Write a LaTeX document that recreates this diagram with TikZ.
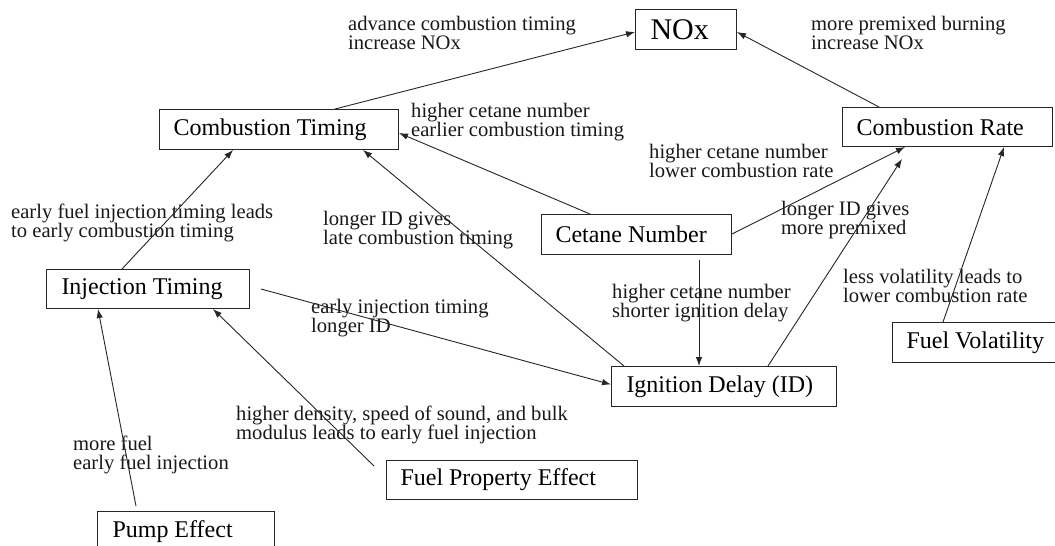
\documentclass[tikz,border=0pt]{standalone}
\usepackage{fontspec}
\setmainfont{Liberation Serif}
\usetikzlibrary{calc,arrows.meta}
\newcommand{\bxt}[3]{\makebox[#1pt][l]{\hspace*{#2pt}#3}}
\begin{document}
\begin{tikzpicture}[x=1pt,y=-1pt,
  box/.style={draw=black!85, line width=1pt, inner sep=0pt, minimum height=40pt, anchor=north west, font=\fontsize{24}{28}\selectfont},
  lab/.style={anchor=north west, inner sep=0pt, align=left, font=\fontsize{20.6}{19.5}\selectfont, text=black!90},
  arr/.style={draw=black!85, line width=0.9pt, -{Latex[length=9pt,width=6.5pt]}}]
\fill[white] (0,0) rectangle (1055,546);
\useasboundingbox (0,0) rectangle (1055,546);

% boxes
\node[box] (nox) at (635,9) {\fontsize{30}{34}\selectfont\bxt{101}{15}{NOx}};
\node[box] (ct) at (159,109) {\bxt{239}{14}{Combustion Timing}};
\node[box,minimum height=39pt] (cr) at (842,107) {\bxt{210}{14}{Combustion Rate}};
\node[box] (cn) at (541,214) {\bxt{190}{14}{Cetane Number}};
\node[box,minimum height=39pt] (it) at (46,269) {\bxt{203}{15}{Injection Timing}};
\node[box] (id) at (611,366) {\bxt{225}{15}{Ignition Delay (ID)}};
\node[box] (fv) at (892,322) {\bxt{180}{14}{Fuel Volatility}};
\node[box,minimum height=39pt] (fpe) at (386,460) {\bxt{251}{14}{Fuel Property Effect}};
\node[box] (pu) at (97,511) {\bxt{177}{15}{Pump Effect}};

% labels
\node[lab] (l1) at (348,15.6) {advance combustion timing\\increase NOx};
\node[lab] (l2) at (811,15.6) {more premixed burning\\increase NOx};
\node[lab] (l3) at (411,102.6) {higher cetane number\\earlier combustion timing};
\node[lab] (l4) at (649,143.6) {higher cetane number\\lower combustion rate};
\node[lab] (l5) at (11,203.6) {early fuel injection timing leads\\to early combustion timing};
\node[lab] (l6) at (323,210.6) {longer ID gives\\late combustion timing};
\node[lab] (l7) at (781,200.6) {longer ID gives\\more premixed};
\node[lab] (l8) at (843,268.6) {less volatility leads to\\lower combustion rate};
\node[lab] (l9) at (612,283.6) {higher cetane number\\shorter ignition delay};
\node[lab] (l10) at (311,298.6) {early injection timing\\longer ID};
\node[lab] (l11) at (236,405.6) {higher density, speed of sound, and bulk\\modulus leads to early fuel injection};
\node[lab] (l12) at (73,435.6) {more fuel\\early fuel injection};

% connectors
\draw[arr] ($(ct.north west)+(176,0)$) -- ($(nox.north west)+(0,23)$);
\draw[arr] ($(cr.north west)+(37,0)$) -- ($(nox.north east)+(0,23)$);
\draw[arr] ($(cn.north west)+(49,0)$) -- ($(ct.north east)+(0,24)$);
\draw[arr] ($(cn.north east)+(0,20)$) -- ($(cr.south west)+(63,0)$);
\draw[arr] ($(id.north west)+(157,0)$) -- ($(cr.south west)+(60,12)$);
\draw[arr] ($(fv.north west)+(51,0)$) -- ($(cr.south west)+(162,0)$);
\draw[arr] ($(cn.south west)+(158,5)$) -- ($(id.north west)+(88,0)$);
\draw[arr] ($(id.north west)+(13,0)$) -- ($(ct.south west)+(204,0)$);
\draw[arr] ($(it.north west)+(76,0)$) -- ($(ct.south west)+(74,0)$);
\draw[arr] ($(it.east)+(11,0)$) -- ($(id.west)+(0,-2)$);
\draw[arr] ($(fpe.north west)+(-12,6)$) -- ($(it.south west)+(167,0)$);
\draw[arr] ($(pu.north west)+(39,-5)$) -- ($(it.south west)+(52,0)$);
\end{tikzpicture}
\end{document}
